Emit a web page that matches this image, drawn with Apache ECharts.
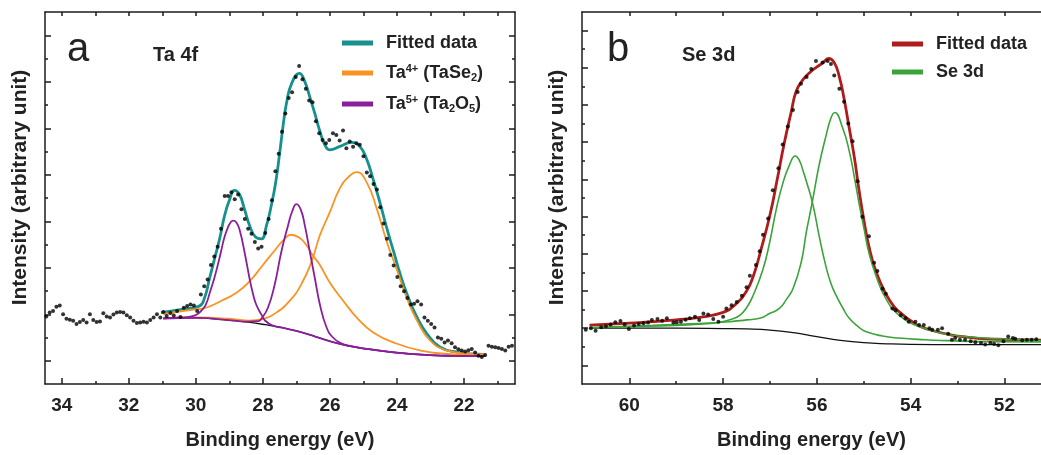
<!DOCTYPE html>
<html><head><meta charset="utf-8">
<script src="https://cdn.jsdelivr.net/npm/echarts@6/dist/echarts.min.js"></script>
<style>html,body{margin:0;padding:0;background:#fff}#c{width:1041px;height:455px}</style>
</head><body><div id="c"></div>
<script>
// ---------- Panel a : Ta 4f ----------
const taDots = [[34.46,2.90],[34.36,3.07],[34.26,3.14],[34.16,3.32],[34.06,3.38],[33.96,3.00],[33.86,2.81],[33.76,2.76],[33.66,2.72],[33.56,2.58],[33.46,2.67],[33.36,2.75],[33.26,2.64],[33.16,3.00],[33.06,2.75],[32.96,2.67],[32.86,2.69],[32.76,3.04],[32.66,2.90],[32.56,2.86],[32.46,2.99],[32.36,3.07],[32.26,3.10],[32.16,3.07],[32.06,2.96],[31.96,2.86],[31.86,2.72],[31.76,2.62],[31.66,2.65],[31.56,2.68],[31.46,2.65],[31.36,2.75],[31.26,2.86],[31.16,3.00],[31.06,2.86],
[30.97,3.10],[30.87,2.93],[30.76,3.05],[30.66,2.95],[30.56,3.14],[30.46,2.88],[30.36,3.28],[30.26,3.35],[30.16,3.42],[30.06,3.38],[29.96,3.14],[29.85,3.85],[29.75,4.20],[29.65,4.49],[29.55,5.12],[29.45,5.48],[29.35,5.90],[29.25,6.68],[29.14,8.09],[29.04,8.09],[28.94,8.25],[28.84,7.95],[28.74,8.15],[28.64,7.52],[28.54,7.10],[28.44,6.68],[28.34,6.46],[28.24,6.11],[28.14,5.83],[28.04,5.90],[27.93,6.50],[27.83,7.10],[27.73,7.90],[27.63,9.15],[27.53,9.90],[27.43,10.85],[27.33,11.63],[27.23,12.30],[27.13,12.55],[27.02,13.20],[26.92,13.68],[26.82,13.11],[26.72,12.70],[26.62,12.19],[26.52,12.12],[26.42,11.30],[26.32,10.78],[26.22,10.50],[26.12,10.36],[26.02,10.50],[25.91,10.78],[25.81,10.71],[25.71,10.47],[25.61,10.90],[25.51,10.14],[25.41,10.43],[25.31,10.20],[25.21,10.36],[25.11,10.29],[25.00,9.80],[24.90,9.10],[24.80,8.94],[24.70,8.60],[24.60,8.37],[24.50,7.60],[24.40,6.90],[24.30,6.25],[24.20,5.55],[24.10,5.10],[23.99,4.60],[23.89,4.20],[23.79,3.99],[23.69,3.70],[23.59,3.42],[23.49,3.45],[23.39,3.56],[23.28,3.42],[23.18,2.86],[23.08,2.72],[22.98,2.58],[22.88,2.43],[22.78,2.00],[22.68,1.95],[22.58,1.79],[22.48,1.87],[22.37,1.75],[22.27,1.58],[22.17,1.50],[22.07,1.44],[21.97,1.40],[21.87,1.45],[21.77,1.51],[21.67,1.35],[21.57,1.22],[21.47,1.16],[21.37,1.25],[21.27,1.65],[21.17,1.60],[21.07,1.58],[20.97,1.55],[20.87,1.51],[20.77,1.44],[20.67,1.60],[20.57,1.65]];
const taFit = [[31.04,3.07],[30.46,3.20],[29.90,3.35],[29.74,3.71],[29.59,4.55],[29.44,5.40],[29.29,6.25],[29.14,7.26],[28.99,7.95],[28.85,8.33],[28.70,8.16],[28.55,7.52],[28.40,6.83],[28.22,6.32],[28.05,6.24],[27.89,6.83],[27.75,7.68],[27.62,8.66],[27.50,9.93],[27.40,11.08],[27.30,12.05],[27.15,12.90],[26.91,13.36],[26.76,13.04],[26.60,12.34],[26.45,11.63],[26.30,10.87],[26.15,10.28],[26.00,10.07],[25.70,10.22],[25.36,10.39],[25.11,10.22],[24.90,9.65],[24.71,8.80],[24.51,7.81],[24.30,6.68],[24.10,5.69],[23.90,4.70],[23.66,3.71],[23.40,2.86],[23.10,2.15],[22.71,1.58],[22.21,1.37],[21.42,1.27]];
const taBackground = [[30.97,2.81],[30.46,2.84],[29.96,2.84],[29.45,2.80],[28.95,2.74],[28.44,2.66],[27.93,2.55],[27.43,2.42],[26.92,2.25],[26.42,2.03],[25.91,1.80],[25.41,1.63],[24.90,1.51],[24.40,1.41],[23.89,1.33],[23.39,1.27],[22.88,1.23],[22.37,1.21],[21.87,1.20],[21.37,1.20]];
const taOrange1 = [[30.97,3.00],[30.40,3.14],[29.96,3.22],[29.70,3.28],[29.25,3.57],[28.79,3.92],[28.40,4.41],[28.00,5.12],[27.60,5.83],[27.38,6.20],[27.16,6.42],[26.92,6.30],[26.70,5.97],[26.52,5.55],[26.30,5.12],[26.00,4.35],[25.60,3.57],[25.20,2.86],[24.71,2.22],[24.00,1.73],[23.30,1.44],[22.50,1.30],[21.50,1.26],[21.37,1.25]];
const taOrange2 = [[30.97,2.83],[29.96,2.86],[28.95,2.80],[28.40,2.72],[28.00,2.80],[27.60,3.07],[27.19,3.60],[26.85,4.30],[26.54,5.30],[26.30,6.40],[26.00,7.40],[25.71,8.40],[25.45,8.90],[25.20,9.11],[24.90,8.66],[24.60,7.52],[24.30,6.10],[24.00,4.90],[23.71,3.71],[23.40,2.72],[23.01,1.87],[22.50,1.44],[21.81,1.30],[21.37,1.27]];
const taPurple1 = [[30.97,2.83],[30.46,2.86],[30.16,2.90],[29.96,3.00],[29.81,3.20],[29.70,3.42],[29.58,3.95],[29.45,4.55],[29.35,5.10],[29.25,5.69],[29.15,6.30],[29.04,6.75],[28.95,6.98],[28.89,7.03],[28.79,6.95],[28.69,6.60],[28.55,5.69],[28.40,4.55],[28.30,3.90],[28.20,3.42],[28.03,2.95],[27.93,2.72],[27.72,2.52],[27.43,2.42],[26.92,2.25],[26.42,2.03],[25.91,1.80],[25.41,1.63],[24.90,1.51],[24.40,1.41],[23.89,1.33],[23.39,1.27],[22.88,1.23],[22.37,1.21],[21.87,1.20],[21.37,1.20]];
const taPurple2 = [[30.97,2.81],[29.96,2.84],[28.95,2.74],[28.44,2.68],[28.14,2.70],[28.04,2.82],[27.85,3.28],[27.65,4.27],[27.45,5.69],[27.25,6.82],[27.12,7.45],[27.00,7.74],[26.87,7.50],[26.75,6.82],[26.60,5.69],[26.45,4.55],[26.30,3.42],[26.10,2.43],[25.91,2.00],[25.66,1.75],[25.41,1.64],[24.90,1.51],[24.40,1.41],[23.89,1.33],[23.39,1.27],[22.88,1.23],[22.37,1.21],[21.87,1.20],[21.37,1.20]];
const taMajorX = [22, 24, 26, 28, 30, 32, 34];
const taMinorX = [21, 23, 25, 27, 29, 31, 33];
const taTopX = [21, 22, 23, 24, 25, 26, 27, 28, 29, 30, 31, 32, 33, 34];
const taMajorY = [1, 3, 5, 7, 9, 11, 13, 15];
const taMinorY = [2, 4, 6, 8, 10, 12, 14];

// ---------- Panel b : Se 3d ----------
const seDots = [[60.93,2.91],[60.82,3.00],[60.72,2.86],[60.60,3.05],[60.50,3.10],[60.40,3.20],[60.30,3.32],[60.19,3.39],[60.10,3.20],[60.01,2.96],[59.90,3.15],[59.80,3.22],[59.70,3.26],[59.60,3.30],[59.52,3.44],[59.40,3.49],[59.30,3.40],[59.20,3.53],[59.06,3.30],[58.99,3.32],[58.90,3.35],[58.80,3.45],[58.71,3.53],[58.60,3.61],[58.51,3.44],[58.42,3.79],[58.32,3.74],[58.21,3.49],[58.10,3.35],[58.00,3.61],[57.93,4.06],[57.82,4.23],[57.71,4.41],[57.60,4.75],[57.50,5.20],[57.43,5.82],[57.30,6.40],[57.22,7.14],[57.15,8.03],[57.04,8.90],[56.94,10.41],[56.82,11.60],[56.73,12.87],[56.62,13.85],[56.51,14.73],[56.41,15.70],[56.34,16.14],[56.22,16.50],[56.12,16.93],[56.02,17.37],[55.88,17.28],[55.77,17.37],[55.70,17.20],[55.63,16.58],[55.52,15.87],[55.42,15.17],[55.33,14.00],[55.24,13.05],[55.13,10.90],[55.03,8.99],[54.89,7.94],[54.78,6.52],[54.71,6.08],[54.60,5.12],[54.53,4.85],[54.39,4.06],[54.32,3.97],[54.21,3.70],[54.11,3.53],[54.04,3.35],[53.90,3.35],[53.82,3.17],[53.72,3.17],[53.60,3.00],[53.54,2.91],[53.42,2.91],[53.33,3.00],[53.20,2.70],[53.12,2.38],[53.05,2.47],[52.95,2.38],[52.84,2.38],[52.72,2.30],[52.62,2.25],[52.50,2.20],[52.41,2.12],[52.30,2.20],[52.22,2.15],[52.13,2.08],[52.02,2.30],[51.92,2.56],[51.82,2.47],[51.77,2.43],[51.62,2.35],[51.52,2.38],[51.42,2.38],[51.32,2.40]];
const seFit = [[60.85,3.17],[60.00,3.27],[59.50,3.35],[59.00,3.45],[58.50,3.58],[58.00,3.85],[57.75,4.25],[57.50,5.00],[57.35,5.85],[57.20,7.15],[57.00,9.10],[56.85,10.95],[56.70,12.90],[56.55,14.60],[56.44,15.75],[56.30,16.35],[56.15,16.75],[56.00,17.05],[55.88,17.25],[55.75,17.50],[55.63,17.28],[55.52,16.50],[55.42,15.34],[55.31,13.76],[55.20,12.17],[55.10,10.40],[55.00,8.85],[54.89,7.40],[54.74,6.05],[54.53,4.85],[54.35,4.15],[54.18,3.75],[54.00,3.40],[53.82,3.12],[53.50,2.85],[53.12,2.63],[52.80,2.52],[52.41,2.43],[52.00,2.40],[51.22,2.36]];
const seBackground = [[60.85,3.00],[60.00,3.00],[59.00,3.00],[58.00,2.98],[57.50,2.96],[57.00,2.90],[56.50,2.76],[56.00,2.55],[55.50,2.35],[55.00,2.22],[54.50,2.16],[54.00,2.13],[53.00,2.12],[52.00,2.12],[51.22,2.12]];
const seGreen1 = [[60.85,3.03],[60.00,3.08],[59.00,3.15],[58.50,3.22],[58.07,3.32],[57.80,3.50],[57.64,3.70],[57.50,4.10],[57.36,4.76],[57.15,6.17],[57.01,7.58],[56.87,9.35],[56.73,10.76],[56.58,11.81],[56.46,12.26],[56.37,12.00],[56.30,11.50],[56.23,10.94],[56.09,9.70],[55.95,7.94],[55.81,6.35],[55.70,5.40],[55.59,4.76],[55.45,4.10],[55.31,3.53],[55.10,3.05],[54.96,2.82],[54.60,2.58],[54.25,2.47],[53.70,2.38],[53.19,2.33],[52.50,2.28],[51.22,2.26]];
const seGreen2 = [[60.85,3.02],[60.33,3.08],[59.50,3.15],[58.92,3.21],[58.30,3.28],[57.86,3.35],[57.50,3.45],[57.22,3.53],[57.00,3.80],[56.80,4.06],[56.65,4.55],[56.51,5.12],[56.33,6.60],[56.23,8.10],[56.16,9.00],[56.09,9.90],[55.95,11.80],[55.81,13.30],[55.70,14.30],[55.62,14.60],[55.45,13.76],[55.31,12.52],[55.20,11.11],[55.10,9.70],[54.99,8.29],[54.89,7.05],[54.74,5.82],[54.53,4.59],[54.25,3.70],[53.90,3.17],[53.50,2.85],[53.19,2.65],[52.60,2.50],[52.13,2.43],[51.22,2.33]];
const seMajorX = [52, 54, 56, 58, 60];
const seMinorX = [53, 55, 57, 59];
const seTopX = [52, 53, 54, 55, 56, 57, 58, 59, 60];
const seMajorY = [1, 3, 5, 7, 9, 11, 13, 15, 17, 19];
const seMinorY = [2, 4, 6, 8, 10, 12, 14, 16, 18];

// ---------- styling ----------
const FONT = '"Liberation Sans", Arial, Helvetica, sans-serif';
const AX = '#1c1c1c';
const TXT = '#222';
const C_TEAL = '#16918d', C_ORANGE = '#fb9324', C_PURPLE = '#8a1f9b', C_RED = '#b01c1c', C_GREEN = '#3aa33a';

function xAx(grid, min, max, pos, ticks, len, opts) {
  return Object.assign({
    gridIndex: grid, type: 'value', position: pos, inverse: true, min: min, max: max,
    axisLine: { show: true, onZero: false, lineStyle: { color: AX, width: 1.5 } },
    axisTick: { show: true, inside: true, length: len, customValues: ticks, lineStyle: { color: AX, width: 1.5 } },
    axisLabel: { show: false },
    splitLine: { show: false }
  }, opts || {});
}
function yAx(grid, max, pos, ticks, len, showLine, opts) {
  return Object.assign({
    gridIndex: grid, type: 'value', position: pos, min: 0, max: max,
    axisLine: { show: showLine, onZero: false, lineStyle: { color: AX, width: 1.5 } },
    axisTick: { show: true, inside: true, length: len, customValues: ticks, lineStyle: { color: AX, width: 1.5 } },
    axisLabel: { show: false },
    splitLine: { show: false }
  }, opts || {});
}
const xName = {
  name: 'Binding energy (eV)', nameLocation: 'middle', nameGap: 46,
  nameTextStyle: { fontFamily: FONT, fontSize: 20, fontWeight: 'bold', color: TXT }
};
function xLabels(vals) {
  return { show: true, customValues: vals, margin: 12, fontFamily: FONT, fontSize: 19, fontWeight: 'bold', color: TXT };
}
const yName = {
  name: 'Intensity (arbitrary unit)', nameLocation: 'middle', nameRotate: 90, nameGap: 14,
  nameTextStyle: { fontFamily: FONT, fontSize: 21, fontWeight: 'bold', color: TXT, padding: [0, 0, 0, 21] }
};

function line(name, data, color, width, xi, yi) {
  return {
    type: 'line', name: name, data: data, xAxisIndex: xi, yAxisIndex: yi,
    showSymbol: false, symbol: 'none', smooth: 0.5,
    lineStyle: { color: color, width: width }, itemStyle: { color: color },
    silent: true, animation: false
  };
}
function dots(data, xi, yi) {
  return {
    type: 'scatter', data: data, xAxisIndex: xi, yAxisIndex: yi, symbol: 'circle', symbolSize: 4,
    itemStyle: { color: '#000' }, silent: true, animation: false, z: 5
  };
}

const rich = {
  sp: { width: 8 },
  t: { fontFamily: FONT, fontSize: 18, fontWeight: 'bold', color: TXT, lineHeight: 20 },
  sup: { fontFamily: FONT, fontSize: 11, fontWeight: 'bold', color: TXT, lineHeight: 11, verticalAlign: 'top' },
  sub: { fontFamily: FONT, fontSize: 11, fontWeight: 'bold', color: TXT, lineHeight: 11, verticalAlign: 'bottom' }
};
function legendFmt(name) {
  if (name === 'Ta4+ (TaSe2)') return '{sp| }{t|Ta}{sup|4+}{t| (TaSe}{sub|2}{t|)}';
  if (name === 'Ta5+ (Ta2O5)') return '{sp| }{t|Ta}{sup|5+}{t| (Ta}{sub|2}{t|O}{sub|5}{t|)}';
  if (name === 'Fitted data (Se)') return '{sp| }{t|Fitted data}';
  return '{sp| }{t|' + name + '}';
}

const option = {
  animation: false,
  backgroundColor: '#fff',
  grid: [
    { left: 45, top: 12, width: 470, height: 377 },
    { left: 582, top: 12, width: 460, height: 378 }
  ],
  title: [
    { text: 'a', left: 67, top: 30, padding: 0, textStyle: { fontFamily: FONT, fontSize: 40, fontWeight: 'normal', color: TXT } },
    { text: 'Ta 4f', left: 153, top: 45, padding: 0, textStyle: { fontFamily: FONT, fontSize: 20, fontWeight: 'bold', color: TXT } },
    { text: 'b', left: 607, top: 30, padding: 0, textStyle: { fontFamily: FONT, fontSize: 40, fontWeight: 'normal', color: TXT } },
    { text: 'Se 3d', left: 682, top: 45, padding: 0, textStyle: { fontFamily: FONT, fontSize: 20, fontWeight: 'bold', color: TXT } }
  ],
  legend: [
    { data: ['Fitted data', 'Ta4+ (TaSe2)', 'Ta5+ (Ta2O5)'], orient: 'vertical', left: 342, top: 34, padding: 0,
      itemGap: 11, itemWidth: 31, itemHeight: 5, icon: 'rect', selectedMode: false,
      formatter: legendFmt, textStyle: { rich: rich, fontFamily: FONT, fontSize: 18, fontWeight: 'bold', color: TXT } },
    { data: ['Fitted data (Se)', 'Se 3d'], orient: 'vertical', left: 892, top: 35, padding: 0,
      itemGap: 10, itemWidth: 31, itemHeight: 5, icon: 'rect', selectedMode: false,
      formatter: legendFmt, textStyle: { rich: rich, fontFamily: FONT, fontSize: 18, fontWeight: 'bold', color: TXT } }
  ],
  xAxis: [
    xAx(0, 20.48, 34.50, 'bottom', taMajorX, 6, Object.assign({ axisLabel: xLabels(taMajorX) }, xName)),
    xAx(0, 20.48, 34.50, 'bottom', taMinorX, 3, { axisLine: { show: false, onZero: false } }),
    xAx(0, 20.48, 34.50, 'top', taTopX, 4),
    xAx(1, 51.22, 61.01, 'bottom', seMajorX, 6, Object.assign({ axisLabel: xLabels(seMajorX) }, xName)),
    xAx(1, 51.22, 61.01, 'bottom', seMinorX, 3, { axisLine: { show: false, onZero: false } }),
    xAx(1, 51.22, 61.01, 'top', seTopX, 4)
  ],
  yAxis: [
    yAx(0, 16, 'left', taMajorY, 6, true, yName),
    yAx(0, 16, 'left', taMinorY, 3, false),
    yAx(0, 16, 'right', taMajorY, 6, true),
    yAx(0, 16, 'right', taMinorY, 3, false),
    yAx(1, 20, 'left', seMajorY, 6, true, yName),
    yAx(1, 20, 'left', seMinorY, 3, false)
  ],
  series: [
    line('bgA', taBackground, '#111', 1.3, 0, 0),
    line('Fitted data', taFit, C_TEAL, 2.8, 0, 0),
    line('Ta4+ (TaSe2)', taOrange1, C_ORANGE, 1.8, 0, 0),
    line('Ta4+ (TaSe2)', taOrange2, C_ORANGE, 1.8, 0, 0),
    line('Ta5+ (Ta2O5)', taPurple1, C_PURPLE, 1.8, 0, 0),
    line('Ta5+ (Ta2O5)', taPurple2, C_PURPLE, 1.8, 0, 0),
    dots(taDots, 0, 0),
    line('bgB', seBackground, '#111', 1.3, 3, 4),
    line('Fitted data (Se)', seFit, C_RED, 2.8, 3, 4),
    line('Se 3d', seGreen1, C_GREEN, 1.6, 3, 4),
    line('Se 3d', seGreen2, C_GREEN, 1.6, 3, 4),
    dots(seDots, 3, 4)
  ]
};

const chart = echarts.init(document.getElementById('c'), null, { renderer: 'canvas' });
chart.setOption(option);
</script></body></html>
